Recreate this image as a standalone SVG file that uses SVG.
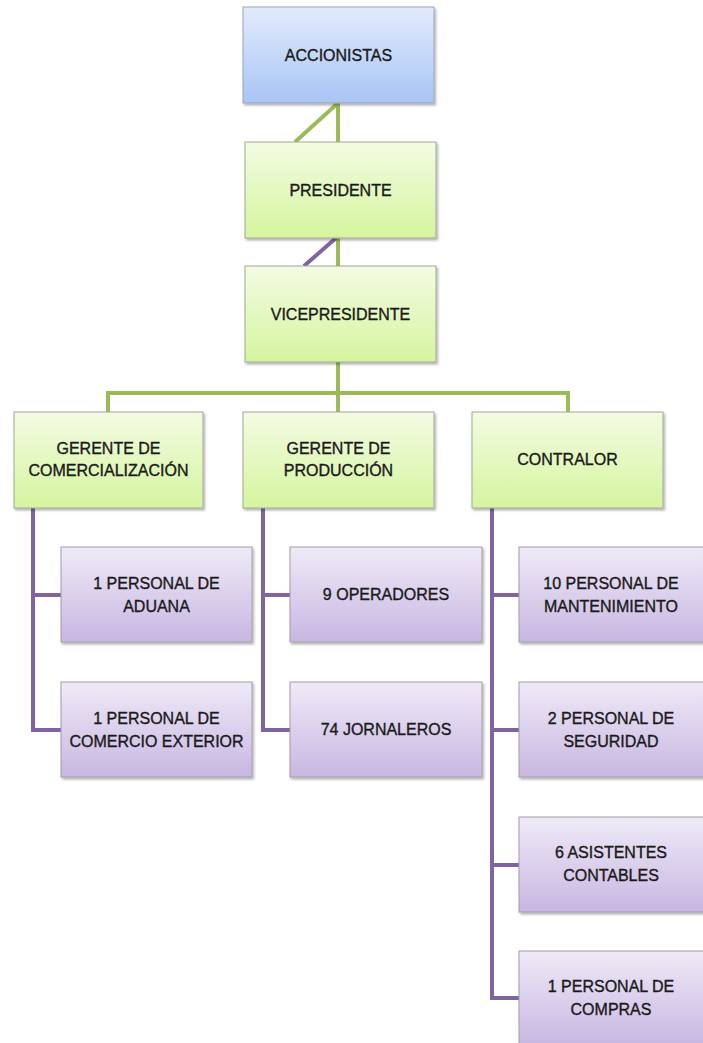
<svg xmlns="http://www.w3.org/2000/svg" width="703" height="1043" viewBox="0 0 703 1043">
<defs>
<linearGradient id="gb" x1="0" y1="0" x2="0" y2="1"><stop offset="0" stop-color="#e2ebfc"/><stop offset="1" stop-color="#a8c5f5"/></linearGradient>
<linearGradient id="gg" x1="0" y1="0" x2="0" y2="1"><stop offset="0" stop-color="#f3fbe3"/><stop offset="1" stop-color="#d5f59e"/></linearGradient>
<linearGradient id="gp" x1="0" y1="0" x2="0" y2="1"><stop offset="0" stop-color="#efeaf7"/><stop offset="1" stop-color="#c8b7e2"/></linearGradient>
<filter id="sh" x="-5%" y="-5%" width="115%" height="120%"><feDropShadow dx="1.5" dy="2" stdDeviation="1.2" flood-color="#000" flood-opacity="0.3"/></filter>
</defs>
<style>
.b{fill:url(#gb);stroke:#9ba6b5;stroke-width:1;filter:url(#sh)}
.g{fill:url(#gg);stroke:#a0a898;stroke-width:1;filter:url(#sh)}
.p{fill:url(#gp);stroke:#a39cab;stroke-width:1;filter:url(#sh)}
text{font-family:"Liberation Sans",Arial,sans-serif;font-size:16px;fill:#1a1a1a;stroke:#1a1a1a;stroke-width:0.35;text-anchor:middle}
.lg{stroke:#9bbb59;stroke-width:4;fill:none}
.lp{stroke:#8064a2;stroke-width:4;fill:none}
</style>
<rect width="703" height="1043" fill="#fff"/>
<g id="connectors">
<line class="lg" x1="338" y1="103" x2="338" y2="142"/>
<line class="lg" x1="338" y1="103" x2="295" y2="142"/>
<line class="lg" x1="338" y1="238" x2="338" y2="266"/>
<line class="lp" x1="336" y1="238" x2="304" y2="266"/>
<line class="lg" x1="338" y1="362" x2="338" y2="412"/>
<polyline class="lg" points="108,412 108,393 568,393 568,412"/>
<polyline class="lp" points="33,508 33,730 61,730"/>
<line class="lp" x1="33" y1="595" x2="61" y2="595"/>
<polyline class="lp" points="263,508 263,730 290,730"/>
<line class="lp" x1="263" y1="595" x2="290" y2="595"/>
<polyline class="lp" points="492,508 492,998 519,998"/>
<line class="lp" x1="492" y1="595" x2="519" y2="595"/>
<line class="lp" x1="492" y1="730" x2="519" y2="730"/>
<line class="lp" x1="492" y1="865" x2="519" y2="865"/>
</g>
<g id="accionistas"><rect class="b" x="243" y="7" width="191" height="96"/><text x="338.5" y="61">ACCIONISTAS</text></g>
<g id="presidente"><rect class="g" x="245" y="142" width="191" height="96"/><text x="340.5" y="196">PRESIDENTE</text></g>
<g id="vicepresidente"><rect class="g" x="245" y="266" width="191" height="96"/><text x="340.5" y="320">VICEPRESIDENTE</text></g>
<g id="gerente-comercializacion"><rect class="g" x="14" y="412" width="189" height="96"/><text x="108.5" y="454">GERENTE DE</text><text x="108.5" y="476">COMERCIALIZACIÓN</text></g>
<g id="gerente-produccion"><rect class="g" x="243" y="412" width="191" height="96"/><text x="338.5" y="454">GERENTE DE</text><text x="338.5" y="476">PRODUCCIÓN</text></g>
<g id="contralor"><rect class="g" x="472" y="412" width="191" height="96"/><text x="567.5" y="465">CONTRALOR</text></g>
<g id="aduana"><rect class="p" x="61" y="547" width="191" height="95"/><text x="156.5" y="589">1 PERSONAL DE</text><text x="156.5" y="612">ADUANA</text></g>
<g id="comercio-exterior"><rect class="p" x="61" y="682" width="191" height="95"/><text x="156.5" y="724">1 PERSONAL DE</text><text x="156.5" y="747">COMERCIO EXTERIOR</text></g>
<g id="operadores"><rect class="p" x="290" y="547" width="192" height="95"/><text x="386" y="600">9 OPERADORES</text></g>
<g id="jornaleros"><rect class="p" x="290" y="682" width="192" height="95"/><text x="386" y="735">74 JORNALEROS</text></g>
<g id="mantenimiento"><rect class="p" x="519" y="547" width="191" height="95"/><text x="611" y="589">10 PERSONAL DE</text><text x="611" y="612">MANTENIMIENTO</text></g>
<g id="seguridad"><rect class="p" x="519" y="682" width="191" height="95"/><text x="611" y="724">2 PERSONAL DE</text><text x="611" y="747">SEGURIDAD</text></g>
<g id="contables"><rect class="p" x="519" y="817" width="191" height="95"/><text x="611" y="858">6 ASISTENTES</text><text x="611" y="881">CONTABLES</text></g>
<g id="compras"><rect class="p" x="519" y="951" width="191" height="95"/><text x="611" y="992">1 PERSONAL DE</text><text x="611" y="1015">COMPRAS</text></g>
</svg>
